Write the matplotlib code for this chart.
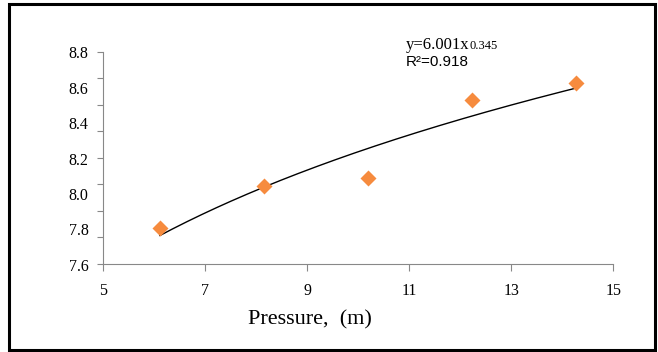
import numpy as np
import matplotlib
matplotlib.use("Agg")
import matplotlib.pyplot as plt
from matplotlib.patches import Rectangle
from matplotlib.transforms import blended_transform_factory

# data
pressure = [6.11, 8.15, 10.20, 12.23, 14.27]
values = [7.805, 8.043, 8.084, 8.527, 8.625]

x_ticks = [5, 7, 9, 11, 13, 15]
y_labels = [7.6, 7.8, 8.0, 8.2, 8.4, 8.6, 8.8]

# power trend line fitted in log-log space
b, ln_a = np.polyfit(np.log(pressure), np.log(values), 1)
xs = np.linspace(min(pressure), max(pressure), 200)
ys = np.exp(ln_a) * xs ** b

fig = plt.figure(figsize=(6.58, 3.52), dpi=100)
ax = fig.add_axes([0.157, 0.25, 0.775, 0.603])

ax.plot(xs, ys, color="black", lw=1.0, zorder=2)
ax.plot(pressure, values, "D", color="#F68B3E", ms=8, mec="none", zorder=3)

ax.set_xlim(5, 15)
ax.set_ylim(7.6, 8.8)
ax.set_xticks(x_ticks)
ax.set_xticklabels([str(t) for t in x_ticks], family="Liberation Serif", fontsize=11.5)

# tick marks and labels don't line up in the original
ax.set_yticks(np.linspace(7.6, 8.8, 9))
ax.set_yticklabels([])
trans = blended_transform_factory(ax.transAxes, ax.transData)
for v in y_labels:
    ax.text(-0.029, v - 0.015, f"{v:.1f}", transform=trans, ha="right", va="center",
            family="Liberation Serif", fontsize=11.5)
ax.tick_params(axis="y", length=4, color="#888888")
ax.tick_params(axis="x", length=5, color="#888888", pad=9)

for s in ["top", "right"]:
    ax.spines[s].set_visible(False)
for s in ["left", "bottom"]:
    ax.spines[s].set_color("#888888")

fig.text(0.377, 0.077, "Pressure,  (m)", family="Liberation Serif", fontsize=16,
         va="baseline")

fig.text(0.617, 0.861, "y=6.001x", family="Liberation Serif", fontsize=12, va="baseline")
fig.text(0.7135, 0.861, "0.345", family="Liberation Serif", fontsize=9, va="baseline")
fig.text(0.617, 0.8125, "R²=0.918", family="Liberation Sans", fontsize=11, va="baseline")

fig.patches.append(Rectangle((0.014, 0.007), 0.981, 0.981, transform=fig.transFigure,
                             fill=False, ec="black", lw=2.2))

fig.savefig("out.png", dpi=100)
